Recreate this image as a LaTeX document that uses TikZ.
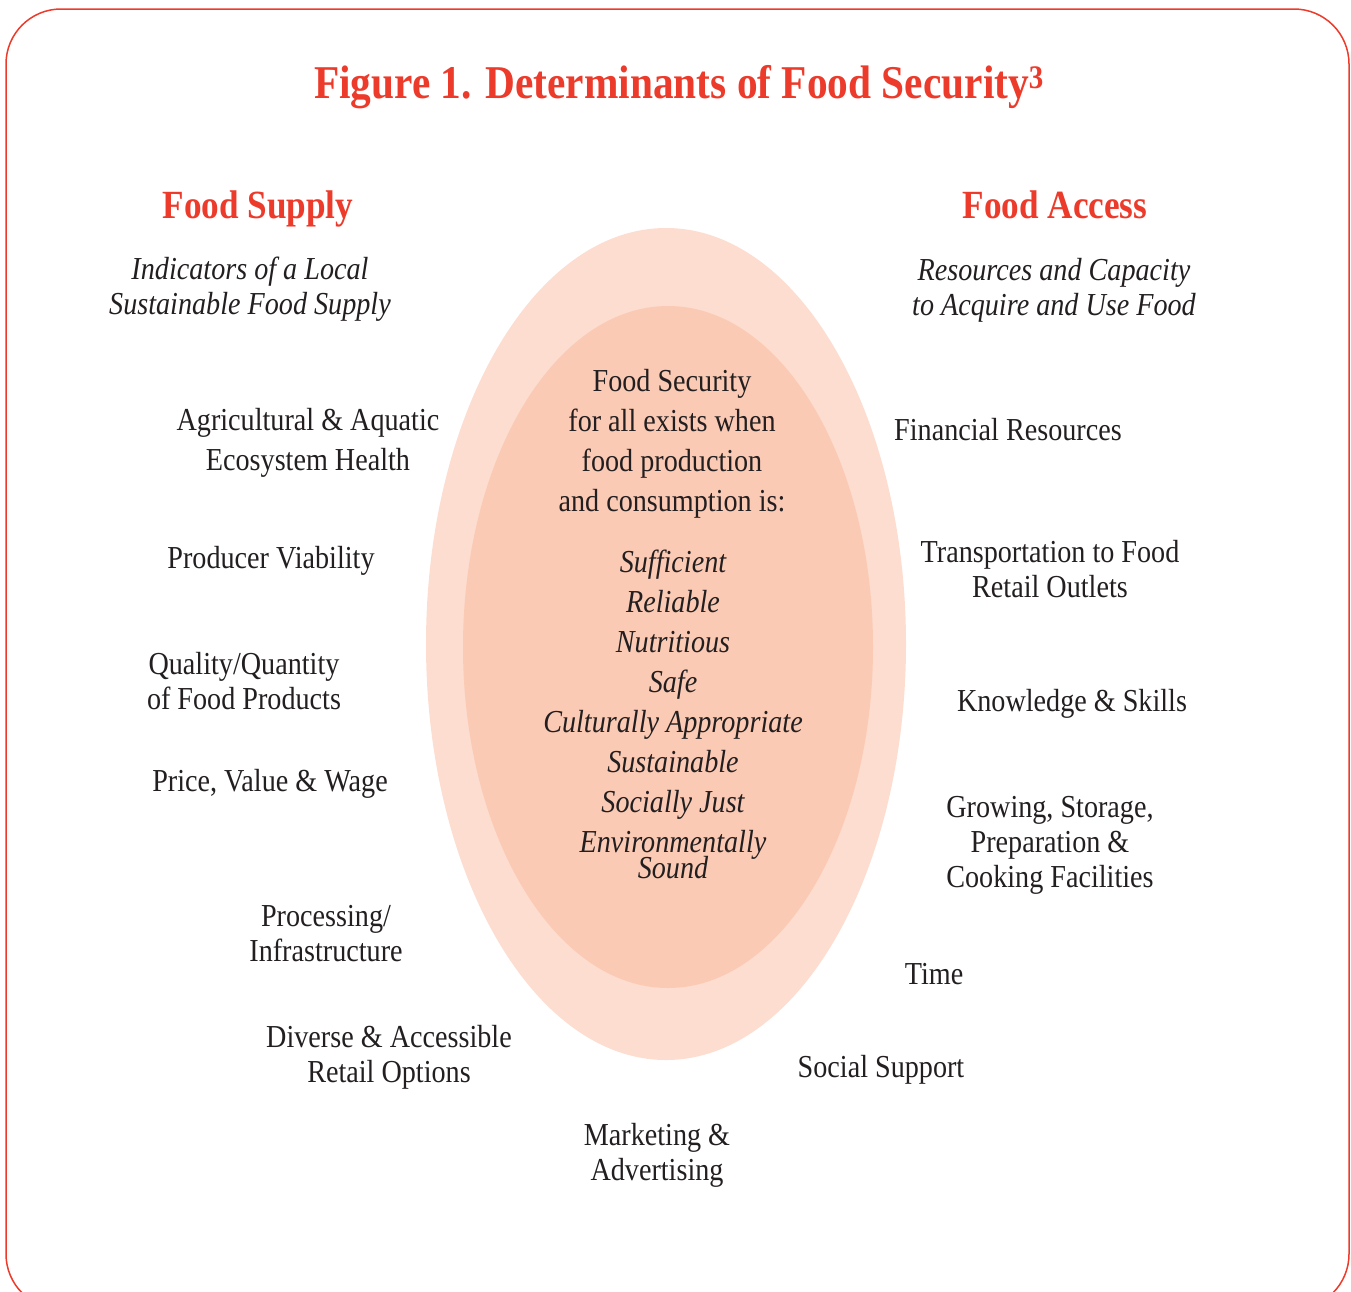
\documentclass[tikz,border=0pt]{standalone}
\usepackage{fontspec}
\setmainfont{Liberation Serif}[FakeStretch=0.88]
\usepackage{xcolor}
\usepackage{tikz}
\usetikzlibrary{shapes,positioning}
\definecolor{titlered}{HTML}{EC3B2B}
\definecolor{outerpink}{HTML}{FDDDCF}
\definecolor{innerpink}{HTML}{FBCAB4}
\definecolor{inkgrey}{HTML}{231F20}
\tikzset{
  head/.style={font=\fontsize{40}{44}\selectfont\bfseries, text=titlered, anchor=base, inner sep=0pt},
  subhead/.style={font=\fontsize{32}{35}\selectfont\itshape, text=inkgrey, align=center, anchor=base, inner sep=0pt},
  factor/.style={font=\fontsize{32}{35}\selectfont, text=inkgrey, align=center, anchor=base, inner sep=0pt},
  factor wide/.style={factor, font=\fontsize{32}{40}\selectfont}
}
\begin{document}
\begin{tikzpicture}[x=1pt, y=-1pt]
        % Page size and frame
        \useasboundingbox (0,0) rectangle (1351,1291);
        \clip (0,0) rectangle (1351,1291);
        \draw[titlered, line width=1.5pt, rounded corners=55pt] (6,9) rectangle (1349,1309);

        % Nested ellipses in the middle
        \def\outerrx{480pt}
        \def\outerry{832pt}
        \node[ellipse, fill=outerpink, inner sep=0pt, minimum width=\outerrx, minimum height=\outerry] (outer) at (666,644) {};
        \node[ellipse, fill=innerpink, inner sep=0pt, minimum width=410pt, minimum height=682pt] (inner) at (668,647) {};

        % Title
        \node[head, font=\fontsize{47}{52}\selectfont\bfseries] (title) at (679,98) {Figure 1. Determinants of Food Security\textsuperscript{3}};

        % Column headings (multi-line nodes sit on their last baseline)
        \node[head] (supply) at (258,218) {Food Supply};
        \node[head] (access) at (1055,218) {Food Access};
        \node[subhead] (supplysub) at (250,314) {Indicators of a Local\\Sustainable Food Supply};
        \node[subhead] (accesssub) at (1054,315) {Resources and Capacity\\to Acquire and Use Food};

        % Centre text
        \node[factor wide] (definition) at (672,511) {Food Security\\for all exists when\\food production\\and consumption is:};
        \node[factor wide, font=\fontsize{32}{40}\selectfont\itshape] (qualities) at (673,878) {Sufficient\\Reliable\\Nutritious\\Safe\\Culturally Appropriate\\Sustainable\\Socially Just\\Environmentally\\[-14pt]Sound};

        % Food supply indicators
        \node[factor wide] (ecosystem) at (308,470) {Agricultural \& Aquatic\\Ecosystem Health};
        \node[factor] (producer) at (271,568) {Producer Viability};
        \node[factor] (quality) at (244,709) {Quality/Quantity\\of Food Products};
        \node[factor] (price) at (270,791) {Price, Value \& Wage};
        \node[factor] (processing) at (326,961) {Processing/\\Infrastructure};
        \node[factor] (retail) at (389,1082) {Diverse \& Accessible\\Retail Options};
        \node[factor] (marketing) at (657,1180) {Marketing \&\\Advertising};

        % Food access resources
        \node[factor] (financial) at (1008,440) {Financial Resources};
        \node[factor] (transport) at (1050,597) {Transportation to Food\\Retail Outlets};
        \node[factor] (knowledge) at (1072,711) {Knowledge \& Skills};
        \node[factor] (facilities) at (1050,887) {Growing, Storage,\\Preparation \&\\Cooking Facilities};
        \node[factor] (time) at (934,984) {Time};
        \node[factor] (social) at (881,1077) {Social Support};
    \end{tikzpicture}
\end{document}
